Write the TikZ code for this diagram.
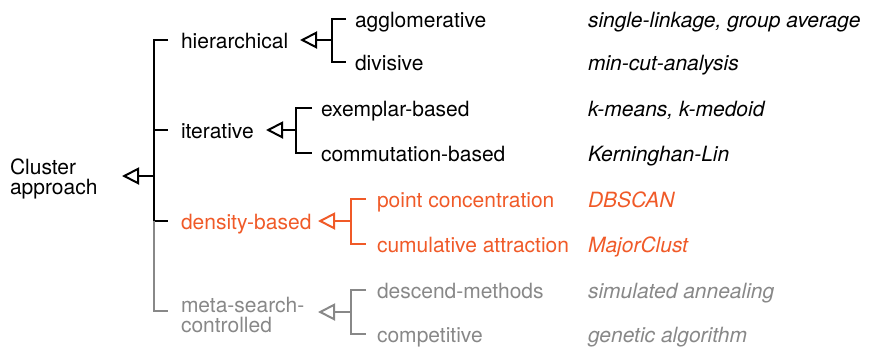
\documentclass[tikz,border=0pt]{standalone}
\usepackage{fontspec}
\setmainfont{TeX Gyre Heros}
\usetikzlibrary{arrows.meta}
\definecolor{accent}{RGB}{240,90,40}
\definecolor{muted}{RGB}{136,136,136}
\begin{document}
\fontsize{21}{20}\selectfont
\begin{tikzpicture}[x=1pt,y=-1pt,
  every node/.style={inner sep=0pt,outer sep=0pt},
  term/.style={anchor=mid west,yshift=-2.5pt,font=\fontsize{21}{20}\selectfont},
  twoline/.style={term,align=left,anchor=west},
  example/.style={term,font=\fontsize{21}{20}\selectfont\itshape},
  wire/.style={line width=2pt,line cap=butt,line join=miter},
  opentip/.style={wire,-{Triangle[open,length=17pt,width=17pt,line width=2pt]}}]
\useasboundingbox (0,0) rectangle (874,349);

% labels of the tree
\node[twoline] (root) at (10,176) {Cluster\\approach};

\node[term] (hier) at (181,40) {hierarchical};
\node[term] (iter) at (181,130) {iterative};
\node[term,text=accent] (dens) at (181,221) {density-based};
\node[twoline,text=muted] (meta) at (181,312) {meta-search-\\controlled};

\node[term] (aggl) at (355,19) {agglomerative};
\node[term] (divi) at (355,62) {divisive};
\node[term] (exem) at (321,108) {exemplar-based};
\node[term] (comm) at (321,153) {commutation-based};
\node[term,text=accent] (poin) at (377,199) {point concentration};
\node[term,text=accent] (cumu) at (377,244) {cumulative attraction};
\node[term,text=muted] (desc) at (377,290) {descend-methods};
\node[term,text=muted] (comp) at (377,334) {competitive};

% example algorithms
\node[example] (exA) at (588,19) {single-linkage, group average};
\node[example] (exB) at (588,62) {min-cut-analysis};
\node[example] (exC) at (588,108) {k-means, k-medoid};
\node[example] (exD) at (588,153) {Kerninghan-Lin};
\node[example,text=accent] (exE) at (588,199) {DBSCAN};
\node[example,text=accent] (exF) at (588,244) {MajorClust};
\node[example,text=muted] (exG) at (588,290) {simulated annealing};
\node[example,text=muted] (exH) at (588,334) {genetic algorithm};

% root bracket
\coordinate (rootTip) at (122,176);
\coordinate (rootJoin) at (154,176);
\coordinate (busTop) at (154,40);
\coordinate (busIter) at (154,130);
\coordinate (busMid) at (154,221);
\coordinate (busBot) at (154,311);
\draw[opentip] (rootJoin) -- (rootTip);
\draw[wire] ([xshift=14pt]busTop) -- (busTop) -- (busMid) -- ([xshift=14pt]busMid);
\draw[wire] (busIter) -- ([xshift=14pt]busIter);
\draw[wire,muted] (busMid) -- (busBot) -- ([xshift=14pt]busBot);

% hierarchical bracket
\coordinate (hTip) at (300,40);
\coordinate (hJoin) at (332,40);
\draw[opentip] (hJoin) -- (hTip);
\draw[wire] (346,19) -| (332,62) -- (346,62);

% iterative bracket
\coordinate (iTip) at (266,130);
\coordinate (iJoin) at (296,130);
\draw[opentip] (iJoin) -- (iTip);
\draw[wire] (312,108) -| (296,153) -- (312,153);

% density-based bracket
\coordinate (dTip) at (318,221);
\coordinate (dJoin) at (351,221);
\draw[opentip,accent] (dJoin) -- (dTip);
\draw[wire,accent] (366,199) -| (351,244) -- (366,244);

% meta-search bracket
\coordinate (mTip) at (318,312);
\coordinate (mJoin) at (351,312);
\draw[opentip,muted] (mJoin) -- (mTip);
\draw[wire,muted] (366,290) -| (351,334) -- (366,334);
\end{tikzpicture}
\end{document}
